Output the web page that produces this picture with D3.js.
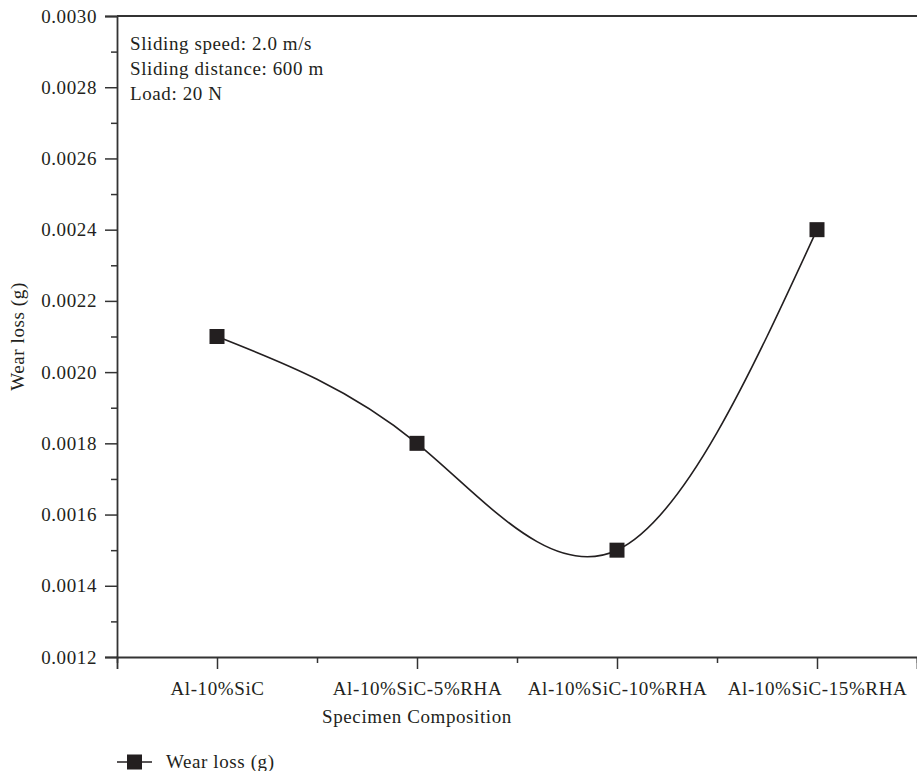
<!DOCTYPE html>
<html>
<head>
<meta charset="utf-8">
<script src="https://cdn.jsdelivr.net/npm/d3@7"></script>
<style>
  body { margin: 0; background: #fff; }
  text { font-family: "Liberation Serif", "Times New Roman", serif; fill: #231f20; }
</style>
</head>
<body>
<svg class="chart"></svg>
<script>
// data
var categories = ["Al-10%SiC", "Al-10%SiC-5%RHA", "Al-10%SiC-10%RHA", "Al-10%SiC-15%RHA"];
var wearLoss = [0.0021, 0.0018, 0.0015, 0.0024];
var yTicks = [0.0012, 0.0014, 0.0016, 0.0018, 0.0020, 0.0022, 0.0024, 0.0026, 0.0028, 0.0030];
var yMinorTicks = [0.0013, 0.0015, 0.0017, 0.0019, 0.0021, 0.0023, 0.0025, 0.0027, 0.0029];
var notes = ["Sliding speed: 2.0 m/s", "Sliding distance: 600 m", "Load: 20 N"];

var W = 917, H = 771;
var margin = {top: 16, left: 117, bottom: 114},
  width = 800,
  height = H - margin.top - margin.bottom;

var svg = d3.select(".chart")
    .attr("width", W)
    .attr("height", H)
  .append("g")
    .attr("transform", "translate(" + margin.left + "," + margin.top + ")");

// x is a linear index scale, half a step of padding on each side
var x = d3.scaleLinear()
  .domain([-0.5, categories.length - 0.5])
  .range([0, width]);

var y = d3.scaleLinear()
  .domain([0.0012, 0.0030])
  .range([height, 0]);

var axisColor = "#333";

// top frame line
svg.append("line")
  .attr("x1", 0).attr("x2", width)
  .attr("y1", 0).attr("y2", 0)
  .style("stroke", axisColor)
  .style("stroke-width", 1.8);

// y axis major + minor
svg.append("g")
  .attr("class", "y axis")
  .call(d3.axisLeft(y).tickValues(yTicks).tickSize(12).tickPadding(8).tickFormat(d3.format(".4f")));
svg.append("g")
  .attr("class", "y minor")
  .call(d3.axisLeft(y).tickValues(yMinorTicks).tickSize(6).tickFormat(""));

// x axis major + minor
var xIdx = categories.map(function(d, i) { return i; });
var xMinor = d3.range(-0.5, categories.length, 1);
svg.append("g")
  .attr("class", "x axis")
  .attr("transform", "translate(0," + height + ")")
  .call(d3.axisBottom(x).tickValues(xIdx).tickSize(12).tickPadding(13)
    .tickFormat(function(i) { return categories[i]; }));
svg.append("g")
  .attr("class", "x minor")
  .attr("transform", "translate(0," + height + ")")
  .call(d3.axisBottom(x).tickValues(xMinor).tickSize(6).tickFormat(""));

svg.selectAll(".axis path")
  .style("stroke", axisColor)
  .style("stroke-width", 1.8);
svg.selectAll(".axis line, .minor line")
  .style("stroke", axisColor)
  .style("stroke-width", 1.5);
svg.selectAll(".axis text")
  .style("font-family", "'Liberation Serif', serif")
  .style("font-size", "19px")
  .style("letter-spacing", "0.6px")
  .style("fill", "#231f20");
svg.selectAll(".minor path").remove();

// axis titles
svg.append("text")
  .attr("transform", "rotate(-90)")
  .attr("x", -height / 2)
  .attr("y", -93)
  .style("text-anchor", "middle")
  .style("font-size", "19px")
  .style("letter-spacing", "0.6px")
  .text("Wear loss (g)");

svg.append("text")
  .attr("x", width / 2 - 100)
  .attr("y", height + 66)
  .style("text-anchor", "middle")
  .style("font-size", "19px")
  .style("letter-spacing", "0.6px")
  .text("Specimen Composition");

// notes in the top left corner
svg.selectAll(".note")
  .data(notes)
  .enter().append("text")
  .attr("class", "note")
  .attr("x", 13)
  .attr("y", function(d, i) { return 34 + i * 25; })
  .style("font-size", "19px")
  .style("letter-spacing", "0.6px")
  .text(function(d) { return d; });

// spline through points
var line = d3.line()
  .x(function(d, i) { return x(i); })
  .y(function(d) { return y(d); })
  .curve(d3.curveNatural);

svg.append("path")
  .datum(wearLoss)
  .attr("d", line)
  .style("fill", "none")
  .style("stroke", "#231f20")
  .style("stroke-width", 1.6);

var sq = 15;
svg.selectAll(".marker")
  .data(wearLoss)
  .enter().append("rect")
  .attr("class", "marker")
  .attr("x", function(d, i) { return x(i) - sq / 2; })
  .attr("y", function(d) { return y(d) - sq / 2; })
  .attr("width", sq)
  .attr("height", sq)
  .style("fill", "#231f20");

// legend
var legend = svg.append("g")
  .attr("transform", "translate(0," + (height + 105) + ")");
legend.append("line")
  .attr("x1", 0).attr("x2", 35)
  .style("stroke", "#231f20")
  .style("stroke-width", 1.6);
legend.append("rect")
  .attr("x", 17.5 - sq / 2).attr("y", -sq / 2)
  .attr("width", sq).attr("height", sq)
  .style("fill", "#231f20");
legend.append("text")
  .attr("x", 49)
  .attr("y", 6)
  .style("font-size", "19px")
  .style("letter-spacing", "0.6px")
  .text("Wear loss (g)");
</script>
</body>
</html>
